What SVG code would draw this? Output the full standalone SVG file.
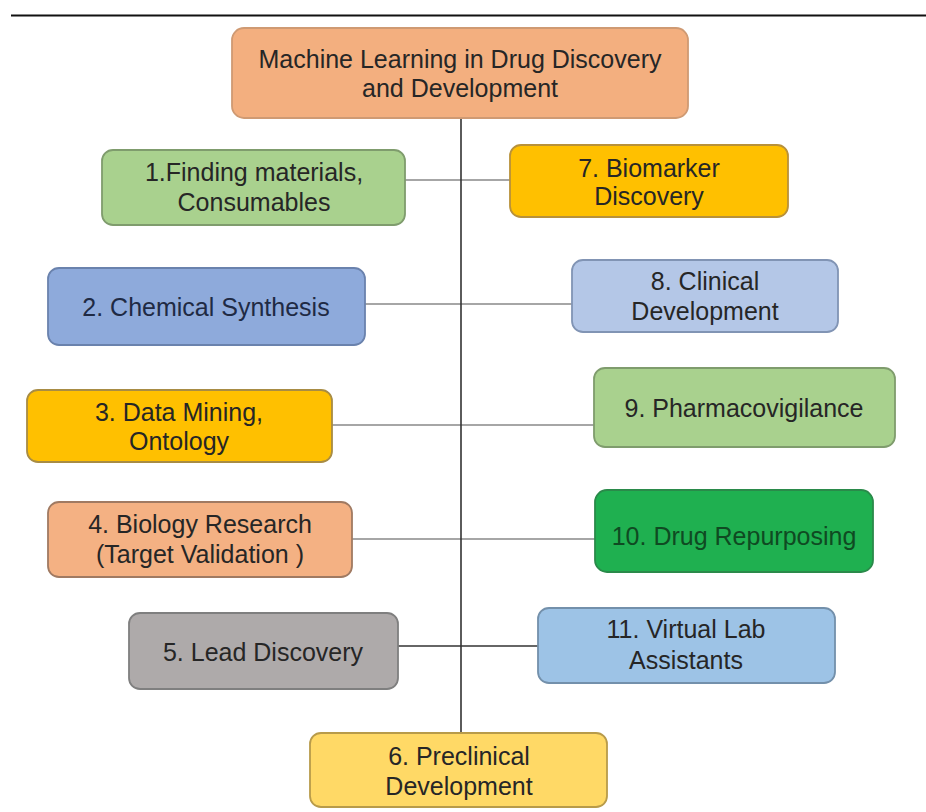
<svg xmlns="http://www.w3.org/2000/svg" width="926" height="812" viewBox="0 0 926 812">
<style>
  .box { stroke-width: 1.8; }
  text { font-family: "Liberation Sans", Arial, sans-serif; font-size: 25px; text-anchor: middle; fill: #262626; }
  .conn { fill: none; stroke: #a6a6a6; stroke-width: 2; }
</style>
<rect width="926" height="812" fill="#ffffff"/>
<line x1="11" y1="15.5" x2="926" y2="15.5" stroke="#111" stroke-width="2"/>
<g id="connectors">
  <line class="conn" x1="405" y1="180" x2="510" y2="180"/>
  <line class="conn" x1="365" y1="304" x2="572" y2="304"/>
  <line class="conn" x1="332" y1="425" x2="594" y2="425"/>
  <line class="conn" x1="352" y1="539" x2="595" y2="539"/>
  <line class="conn" x1="398" y1="646" x2="538" y2="646" style="stroke:#666"/>
  <line x1="461" y1="118" x2="461" y2="733" stroke="#333" stroke-width="1.6"/>
</g>
<g id="title">
  <rect class="box" x="232" y="28" width="456" height="90" rx="12" fill="#f3af7f" stroke="#cf9a73"/>
  <text x="460" y="68">Machine Learning in Drug Discovery</text>
  <text x="460" y="97">and Development</text>
</g>
<g id="n1">
  <rect class="box" x="102" y="150" width="303" height="75" rx="11" fill="#a9d18e" stroke="#7f9c6d"/>
  <text x="254" y="181">1.Finding materials,</text>
  <text x="254" y="211">Consumables</text>
</g>
<g id="n7">
  <rect class="box" x="510" y="145" width="278" height="72" rx="11" fill="#ffc000" stroke="#b8913a"/>
  <text x="649" y="177">7. Biomarker</text>
  <text x="649" y="205">Discovery</text>
</g>
<g id="n2">
  <rect class="box" x="48" y="268" width="317" height="77" rx="11" fill="#8eaadb" stroke="#6a82ad"/>
  <text x="206" y="316" style="fill:#1f2a44">2. Chemical Synthesis</text>
</g>
<g id="n8">
  <rect class="box" x="572" y="260" width="266" height="72" rx="11" fill="#b4c7e7" stroke="#8194b4"/>
  <text x="705" y="290">8. Clinical</text>
  <text x="705" y="320">Development</text>
</g>
<g id="n3">
  <rect class="box" x="27" y="390" width="305" height="72" rx="11" fill="#ffc000" stroke="#a88c44"/>
  <text x="179" y="421">3. Data Mining,</text>
  <text x="179" y="450">Ontology</text>
</g>
<g id="n9">
  <rect class="box" x="594" y="368" width="301" height="79" rx="11" fill="#a9d18e" stroke="#7f9c6d"/>
  <text x="744" y="417">9. Pharmacovigilance</text>
</g>
<g id="n4">
  <rect class="box" x="48" y="502" width="304" height="75" rx="11" fill="#f4b183" stroke="#a07a62"/>
  <text x="200" y="533">4. Biology Research</text>
  <text x="200" y="563">(Target Validation )</text>
</g>
<g id="n10">
  <rect class="box" x="595" y="490" width="278" height="82" rx="12" fill="#1fb050" stroke="#2a8a4a"/>
  <text x="734" y="545" style="fill:#0f4a22">10. Drug Repurposing</text>
</g>
<g id="n5">
  <rect class="box" x="129" y="613" width="269" height="76" rx="11" fill="#aeaaaa" stroke="#7f7f7f"/>
  <text x="263" y="661">5. Lead Discovery</text>
</g>
<g id="n11">
  <rect class="box" x="538" y="608" width="297" height="75" rx="11" fill="#9dc3e6" stroke="#7390ab"/>
  <text x="686" y="638">11. Virtual Lab</text>
  <text x="686" y="669">Assistants</text>
</g>
<g id="n6">
  <rect class="box" x="310" y="733" width="297" height="74" rx="11" fill="#ffd966" stroke="#b89b4a"/>
  <text x="459" y="765">6. Preclinical</text>
  <text x="459" y="795">Development</text>
</g>
</svg>
